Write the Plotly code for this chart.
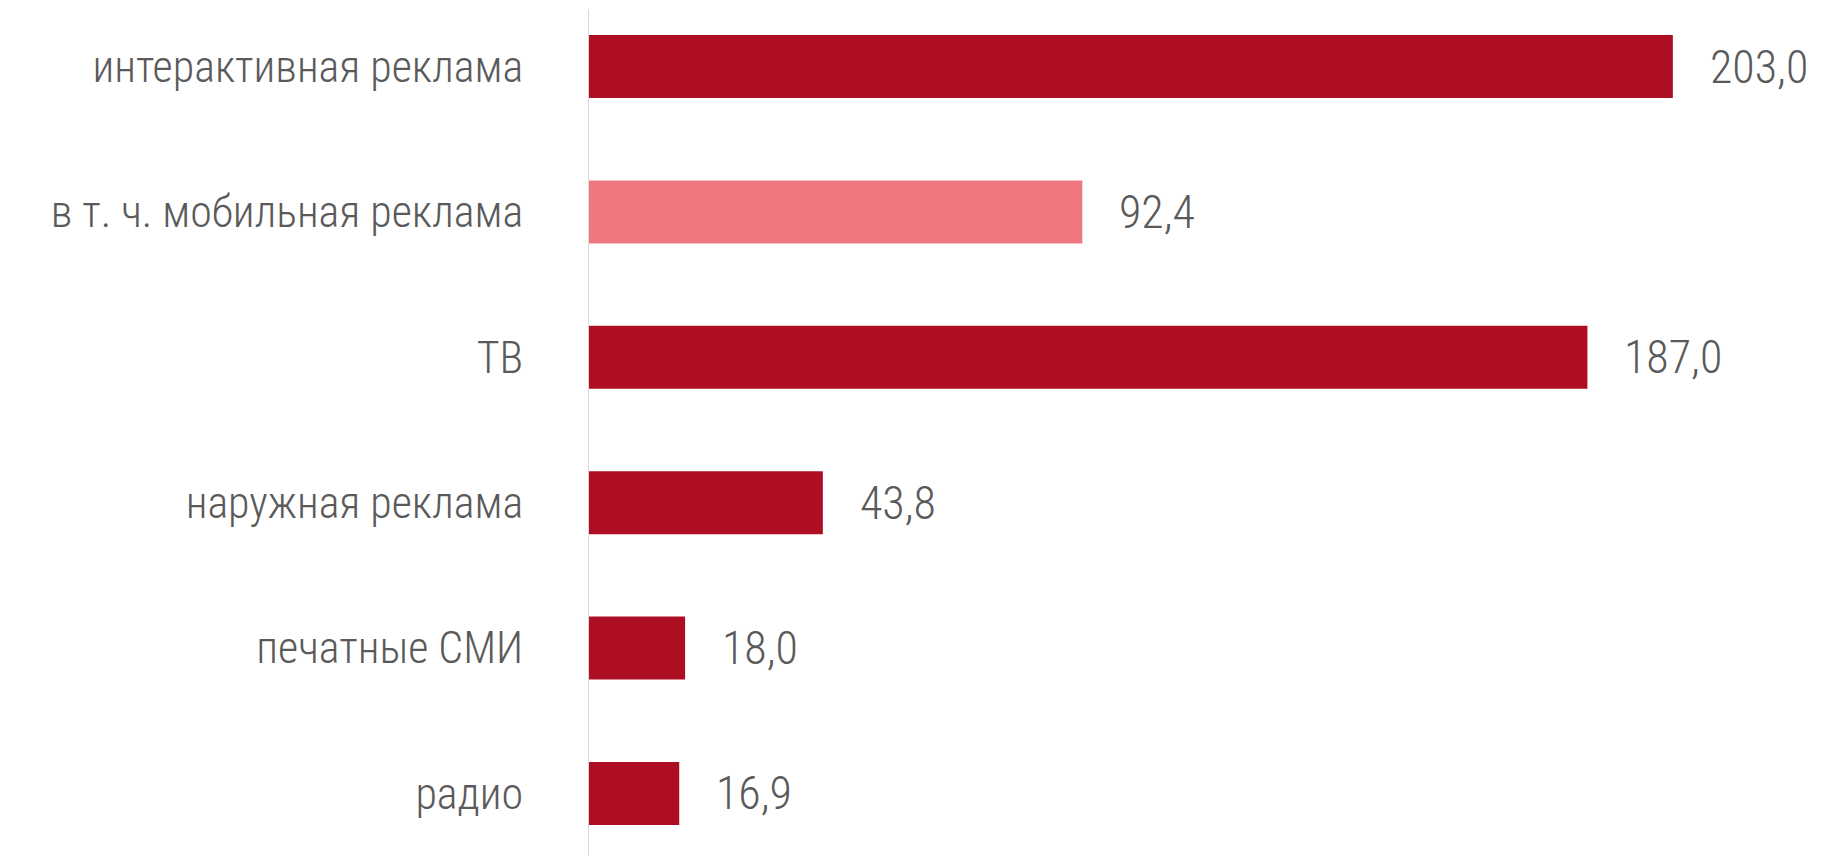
import plotly.graph_objects as go

# Advertising spend by media segment
categories = [
    "интерактивная реклама",
    "в т. ч. мобильная реклама",
    "ТВ",
    "наружная реклама",
    "печатные СМИ",
    "радио",
]
values = [203.0, 92.4, 187.0, 43.8, 18.0, 16.9]
highlight = [False, True, False, False, False, False]

DARK = "#AE0E22"
LIGHT = "#EF7880"
TEXT = "#5A5A5A"
FONT = "Roboto Condensed, Liberation Sans Narrow, DejaVu Sans Condensed, sans-serif"

colors = [LIGHT if h else DARK for h in highlight]
labels = [f"{v:.1f}".replace(".", ",") for v in values]

fig = go.Figure(
    go.Bar(
        x=values,
        y=categories,
        orientation="h",
        marker=dict(color=colors, line=dict(width=0)),
        width=0.433,
        hoverinfo="skip",
    )
)

for cat, v, lab in zip(categories, values, labels):
    fig.add_annotation(
        x=v, y=cat, text=lab, xanchor="left", yanchor="middle",
        xshift=35, showarrow=False,
        font=dict(family=FONT, size=46, color=TEXT, weight=300),
    )

fig.update_layout(
    width=1825, height=856,
    margin=dict(l=589, r=0, t=9, b=0, autoexpand=False),
    paper_bgcolor="white", plot_bgcolor="white",
    showlegend=False,
    font=dict(family=FONT, size=44, color=TEXT),
)
fig.update_xaxes(
    range=[0, 231.5], showgrid=False, zeroline=False,
    showticklabels=False, ticks="", showline=False, automargin=False,
)
fig.update_yaxes(
    type="category",
    categoryorder="array", categoryarray=categories,
    range=[5.43, -0.3955],
    showgrid=False, zeroline=False, ticks="",
    showline=True, linecolor="#D9D9D9", linewidth=1,
    ticklabelstandoff=56, automargin=False,
    tickfont=dict(family=FONT, size=44, color=TEXT, weight=300),
)

fig.write_html("out.html")
